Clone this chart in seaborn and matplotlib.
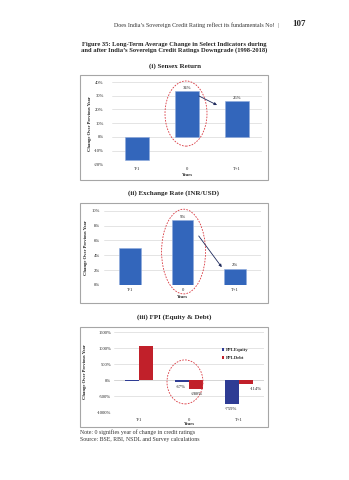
import matplotlib
matplotlib.use("Agg")
import matplotlib.pyplot as plt
from matplotlib.patches import Rectangle, Ellipse
import seaborn as sns
import pandas as pd

sns.set_theme(style="white")
plt.rcParams['font.family'] = ['Liberation Serif', 'DejaVu Serif']

# ---------------- data ----------------
years = ["T-1", "0", "T+1"]
sensex = [-17.2, 33.5, 26.0]
sensex_labels = ["", "34%", "26%"]
fx = [5.0, 8.7, 2.2]
fx_labels = ["", "9%", "2%"]
fpi_equity = [-20, -67, -759]
fpi_debt = [1065, -288, -114]
fpi_eq_labels = ["", "-67%", "-759%"]
fpi_debt_labels = ["", "-288%", "-114%"]
series_names = ["FPI-Equity", "FPI-Debt"]

header = "Does India\u2019s Sovereign Credit Rating reflect its fundamentals No!  |"
page_no = "107"
fig_title = ("Figure 35: Long-Term Average Change in Select Indicators during\n"
             "and after India\u2019s Sovereign Credit Ratings Downgrade (1998-2018)")
titles = ["(i) Sensex Return", "(ii) Exchange Rate (INR/USD)", "(iii) FPI (Equity & Debt)"]
ylab = "Change Over Previous Year"
xlab = "Years"
note = "Note: 0 signifies year of change in credit ratings"
source = "Source: BSE, RBI, NSDL and Survey calculations"

W, H = 349, 480
fig = plt.figure(figsize=(W / 100, H / 100), dpi=100)
fig.patch.set_facecolor("white")

def fx_(x):
    return x / W

def fy_(y):
    return 1 - y / H

def axes_px(x0, x1, ytop, ybot):
    return fig.add_axes([fx_(x0), fy_(ybot), (x1 - x0) / W, (ybot - ytop) / H])

def box(x0, x1, ytop, ybot):
    fig.patches.append(Rectangle((fx_(x0), fy_(ybot)), (x1 - x0) / W, (ybot - ytop) / H,
                                 transform=fig.transFigure, fill=False,
                                 edgecolor="#A6A6A6", linewidth=0.8))

TS = 3.3
BLUE = "#3366BB"
NAVY = "#2E3C94"
RED = "#C1202A"
GRID = "#D9D9D9"
TXT = "#222222"

def style_ax(ax, ylim, ticks, ticklabels, ypad, xpad, ylx, xly):
    ax.set_ylim(*ylim)
    ax.set_xlim(-0.5, 2.5)
    ax.set_yticks(ticks)
    ax.set_yticklabels(ticklabels, fontsize=TS, color=TXT)
    ax.tick_params(axis="y", length=0, pad=ypad)
    ax.tick_params(axis="x", length=0, pad=xpad, labelsize=TS, labelcolor=TXT)
    for s in ax.spines.values():
        s.set_visible(False)
    ax.grid(axis="y", color=GRID, linewidth=0.5)
    ax.set_axisbelow(True)
    ax.set_ylabel(ylab, fontsize=TS, fontweight="bold", color=TXT)
    ax.yaxis.set_label_coords(ylx, 0.5)
    ax.set_xlabel(xlab, fontsize=TS, fontweight="bold", color=TXT)
    ax.xaxis.set_label_coords(0.5, xly)
    ax.set_facecolor("white")

# ---------------- header ----------------
fig.text(fx_(279), fy_(25), header, fontsize=4.35, ha="right", va="center", color="#333333")
fig.text(fx_(292), fy_(24.5), page_no, fontsize=6.5, fontweight="bold", ha="left", va="center")
fig.text(fx_(174), fy_(47.5), fig_title, fontsize=4.65, fontweight="bold", ha="center",
         va="center", linespacing=1.25)

# ---------------- panel 1 ----------------
fig.text(fx_(175), fy_(66), titles[0], fontsize=5, fontweight="bold", ha="center", va="center")
box(80, 268, 75, 180)
ax1 = axes_px(112, 262, 82, 164.3)
df1 = pd.DataFrame({"year": years, "val": sensex})
sns.barplot(data=df1, x="year", y="val", color=BLUE, width=0.47, ax=ax1,
            edgecolor="#8FAADC", linewidth=0.4, saturation=1)
style_ax(ax1, (-20, 40), [-20, -10, 0, 10, 20, 30, 40],
         ["-20%", "-10%", "0%", "10%", "20%", "30%", "40%"], 6, 2, -0.135, -0.1)
for i, (v, lab) in enumerate(zip(sensex, sensex_labels)):
    if lab:
        ax1.text(i, v + 0.8, lab, fontsize=TS, ha="center", va="bottom", color=TXT)
ax1.add_patch(Ellipse((0.98, 17), 0.84, 47.5, fill=False, edgecolor="#D9363E",
                      linestyle=(0, (2, 1.5)), linewidth=0.6, clip_on=False))
ax1.annotate("", xy=(1.6, 23.2), xytext=(1.24, 29.8),
             arrowprops=dict(arrowstyle="-|>", color="#1F2A5C", lw=0.6,
                             mutation_scale=4, shrinkA=0, shrinkB=0))

# ---------------- panel 2 ----------------
fig.text(fx_(174), fy_(193), titles[1], fontsize=5, fontweight="bold", ha="center", va="center")
box(80, 268, 203, 303)
ax2 = axes_px(104, 261, 210.7, 285)
df2 = pd.DataFrame({"year": years, "val": fx})
sns.barplot(data=df2, x="year", y="val", color=BLUE, width=0.42, ax=ax2,
            edgecolor="#8FAADC", linewidth=0.4, saturation=1)
style_ax(ax2, (0, 10), [0, 2, 4, 6, 8, 10],
         ["0%", "2%", "4%", "6%", "8%", "10%"], 3, 2, -0.10, -0.14)
for i, (v, lab) in enumerate(zip(fx, fx_labels)):
    if lab:
        ax2.text(i, v + 0.25, lab, fontsize=TS, ha="center", va="bottom", color=TXT)
ax2.add_patch(Ellipse((1.02, 4.5), 0.84, 11.4, fill=False, edgecolor="#D9363E",
                      linestyle=(0, (2, 1.5)), linewidth=0.6, clip_on=False))
ax2.annotate("", xy=(1.75, 2.4), xytext=(1.31, 6.6),
             arrowprops=dict(arrowstyle="-|>", color="#1F2A5C", lw=0.6,
                             mutation_scale=4, shrinkA=0, shrinkB=0))

# ---------------- panel 3 ----------------
fig.text(fx_(174), fy_(317), titles[2], fontsize=5, fontweight="bold", ha="center", va="center")
box(80, 268, 327, 427)
ax3 = axes_px(114, 264, 332, 412)
df3 = pd.DataFrame({
    "year": years * 2,
    "series": [series_names[0]] * 3 + [series_names[1]] * 3,
    "val": fpi_equity + fpi_debt,
})
sns.barplot(data=df3, x="year", y="val", hue="series", palette=[NAVY, RED],
            width=0.56, ax=ax3, saturation=1, linewidth=0)
style_ax(ax3, (-1000, 1500), [-1000, -500, 0, 500, 1000, 1500],
         ["-1000%", "-500%", "0%", "500%", "1000%", "1500%"], 2, 4, -0.18, -0.12)
ax3.axhline(0, color="#BFBFBF", linewidth=0.5, zorder=0.5)
bw = 0.28
for i, (v, lab) in enumerate(zip(fpi_equity, fpi_eq_labels)):
    if lab:
        ax3.text(i - bw / 2 - 0.02, v - 80, lab, fontsize=TS, ha="center", va="top", color=TXT)
for i, (v, lab) in enumerate(zip(fpi_debt, fpi_debt_labels)):
    if lab:
        if i == 2:
            ax3.text(i + bw + 0.05, v - 100, lab, fontsize=TS, ha="center", va="top", color=TXT)
        else:
            ax3.text(i + bw / 2 + 0.02, v - 80, lab, fontsize=TS, ha="center", va="top", color=TXT)
ax3.add_patch(Ellipse((0.92, -60), 0.72, 1375, fill=False, edgecolor="#D9363E",
                      linestyle=(0, (2, 1.5)), linewidth=0.6, clip_on=False))
leg = ax3.legend(loc="upper left", bbox_to_anchor=(0.72, 0.80), frameon=False,
                 fontsize=TS, handlelength=0.5, handleheight=0.5, handletextpad=0.3,
                 labelspacing=0.9, borderaxespad=0, borderpad=0)
for t in leg.get_texts():
    t.set_fontweight("bold")
    t.set_color(TXT)

# ---------------- footnotes ----------------
fig.text(fx_(80), fy_(432), note, fontsize=4.2, ha="left", va="center", color="#333333")
fig.text(fx_(80), fy_(440), source, fontsize=4.2, ha="left", va="center", color="#333333")

fig.savefig("out.png", dpi=100, facecolor="white")
